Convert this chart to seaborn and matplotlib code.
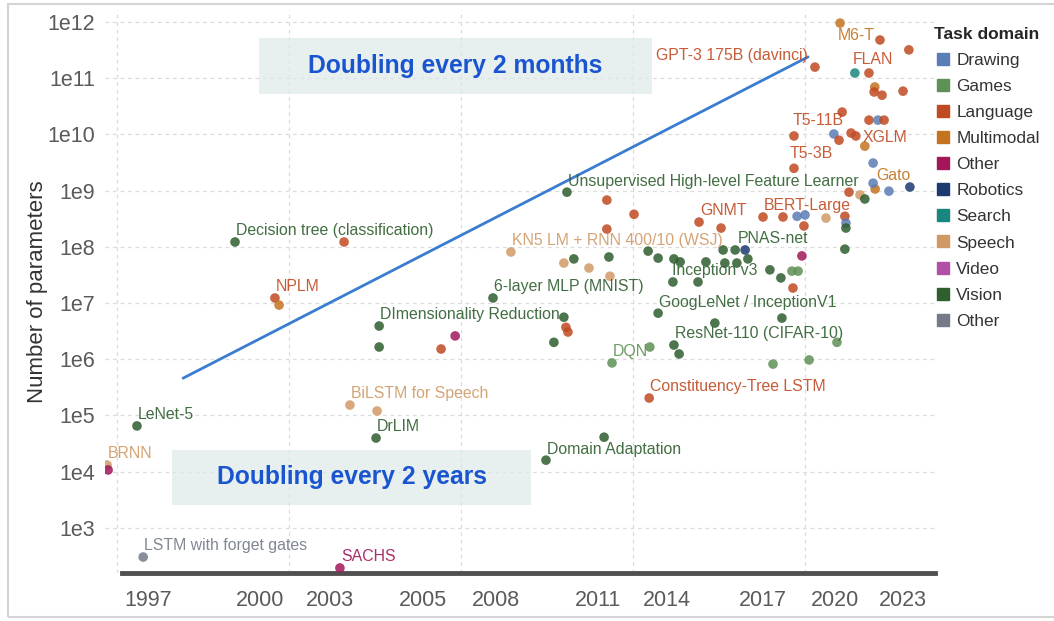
import numpy as np
import pandas as pd
import seaborn as sns
import matplotlib.pyplot as plt
from matplotlib.lines import Line2D
from matplotlib.patches import Rectangle
from matplotlib.ticker import FixedLocator, NullLocator

# ---- data ----
years = [1994.71, 1994.74, 1995.58, 1995.76, 1998.43, 2001.60, 1999.59, 1999.71,
         2002.62, 2002.62, 2004.42, 2004.83, 2005.93, 2007.99, 2008.05, 2008.11,
         2007.70, 2008.08, 2009.24, 2010.03, 2009.24, 2006.45, 2007.99, 2008.28,
         2008.72, 2009.33, 2009.30, 2010.44, 2010.73, 2011.19, 2011.37, 2012.12,
         2012.67, 2013.02, 2013.34, 2012.62, 2012.97, 2013.26, 2011.92, 2012.56,
         2011.16, 2011.89, 2010.73, 2012.38, 2011.19, 2011.34, 2009.39, 2010.49,
         2010.47, 2009.16, 2007.47, 2001.77, 2002.56, 2002.53, 2001.48,
         2013.78, 2014.36, 2014.77, 2015.00, 2015.61, 2016.16, 2016.19, 2016.19,
         2014.97, 2016.16, 2014.91, 2013.98, 2014.30, 2014.62, 2014.80, 2014.65,
         2014.33, 2015.93, 2014.07, 2015.12, 2016.28, 2016.60, 2016.74, 2017.04,
         2017.44, 2018.05, 2016.02, 2017.18, 2018.02, 2016.45, 2016.86, 2015.29,
         2017.03, 2017.01, 2017.24, 2017.85, 2016.08, 2014.68, 2015.84, 2015.99,
         2016.34, 2016.48, 2016.86, 2017.12, 2017.30, 2016.74, 2014.68, 2016.98,
         2016.98]
params = [1.31e4, 1.07e4, 6.5e4, 302, 1.22e8, 1.22e8, 1.23e7, 9.2e6,
          3.9e6, 1.65e6, 1.52e6, 2.6e6, 1.23e7, 5.6e6, 3.7e6, 3.05e6,
          2.0e6, 9.4e8, 6.8e8, 3.8e8, 2.07e8, 8.1e7, 5.15e7, 6.1e7,
          4.2e7, 3.0e7, 6.6e7, 8.4e7, 6.3e7, 6.1e7, 5.4e7, 5.4e7,
          5.15e7, 5.15e7, 6.1e7, 8.8e7, 8.8e7, 8.8e7, 2.76e8, 2.16e8,
          2.37e7, 2.37e7, 6.6e6, 4.4e6, 1.79e6, 1.24e6, 8.6e5, 1.65e6,
          2.04e5, 4.1e4, 1.6e4, 1.53e5, 1.2e5, 3.96e4, 193,
          3.4e8, 3.4e8, 3.5e8, 3.7e8, 3.25e8, 3.5e8, 2.65e8, 2.16e8,
          2.35e8, 9.1e7, 6.9e7, 3.9e7, 2.8e7, 3.7e7, 3.7e7, 1.85e7,
          5.4e6, 2.0e6, 8.2e5, 9.7e5, 9.4e8, 8.4e8, 7.1e8, 1.07e9,
          9.8e8, 1.16e9, 9.6e11, 4.8e11, 3.2e11, 1.24e11, 1.24e11, 1.58e11,
          7.0e10, 5.7e10, 5.0e10, 5.9e10, 2.5e10, 9.4e9, 1.02e10, 7.9e9,
          1.06e10, 9.4e9, 1.8e10, 1.8e10, 1.8e10, 6.2e9, 2.5e9, 3.1e9,
          1.36e9]
domains = ['Speech', 'Other', 'Vision', 'Other (2)', 'Vision', 'Language', 'Language', 'Multimodal',
           'Vision', 'Vision', 'Language', 'Other', 'Vision', 'Vision', 'Language', 'Language',
           'Vision', 'Vision', 'Language', 'Language', 'Language', 'Speech', 'Speech', 'Vision',
           'Speech', 'Speech', 'Vision', 'Vision', 'Vision', 'Vision', 'Vision', 'Vision',
           'Vision', 'Vision', 'Vision', 'Vision', 'Vision', 'Robotics', 'Language', 'Language',
           'Vision', 'Vision', 'Vision', 'Vision', 'Vision', 'Vision', 'Games', 'Games',
           'Language', 'Vision', 'Vision', 'Speech', 'Speech', 'Vision', 'Other',
           'Language', 'Language', 'Drawing', 'Drawing', 'Speech', 'Language', 'Drawing', 'Vision',
           'Language', 'Vision', 'Other', 'Vision', 'Vision', 'Games', 'Games', 'Language',
           'Vision', 'Games', 'Games', 'Games', 'Language', 'Speech', 'Vision', 'Multimodal',
           'Drawing', 'Robotics', 'Multimodal', 'Language', 'Language', 'Search', 'Language', 'Language',
           'Multimodal', 'Language', 'Language', 'Language', 'Language', 'Language', 'Drawing', 'Language',
           'Language', 'Language', 'Language', 'Drawing', 'Language', 'Multimodal', 'Language', 'Drawing',
           'Drawing']

domain_order = ['Drawing', 'Games', 'Language', 'Multimodal', 'Other', 'Robotics',
                'Search', 'Speech', 'Video', 'Vision', 'Other (2)']
legend_names = ['Drawing', 'Games', 'Language', 'Multimodal', 'Other', 'Robotics',
                'Search', 'Speech', 'Video', 'Vision', 'Other']
domain_colors = ['#5a7db6', '#5e9155', '#c04a22', '#c4731f', '#a3175a', '#1d3a6e',
                 '#17877f', '#d09a66', '#b24fa6', '#2f5e2f', '#737b88']

# labelled models: text, year, params, domain
label_texts = ['BRNN', 'LeNet-5', 'LSTM with forget gates', 'Decision tree (classification)',
               'NPLM', 'DImensionality Reduction', '6-layer MLP (MNIST)',
               'Unsupervised High-level Feature Learner', 'KN5 LM + RNN 400/10 (WSJ)',
               'GNMT', 'BERT-Large', 'PNAS-net', 'Inception v3', 'GoogLeNet / InceptionV1',
               'ResNet-110 (CIFAR-10)', 'DQN', 'Constituency-Tree LSTM', 'Domain Adaptation',
               'BiLSTM for Speech', 'DrLIM', 'SACHS', 'GPT-3 175B (davinci)', 'M6-T', 'FLAN',
               'T5-11B', 'XGLM', 'T5-3B', 'Gato']
label_years = [1994.71, 1995.58, 1995.76, 1998.43, 1999.59, 2002.62, 2005.93, 2008.08,
               2006.45, 2011.92, 2013.78, 2013.02, 2011.16, 2010.73, 2011.19, 2009.39,
               2010.47, 2007.47, 2001.77, 2002.53, 2001.48, 2015.29, 2016.02, 2016.86,
               2014.68, 2016.48, 2014.68, 2017.04]
label_params = [1.31e4, 6.5e4, 302, 1.22e8, 1.23e7, 3.9e6, 1.23e7, 9.4e8,
                8.1e7, 2.76e8, 3.4e8, 8.8e7, 2.37e7, 6.6e6, 1.79e6, 8.6e5,
                2.04e5, 1.6e4, 1.53e5, 3.96e4, 193, 1.58e11, 9.6e11, 1.24e11,
                9.4e9, 9.4e9, 2.5e9, 1.07e9]
label_domains = ['Speech', 'Vision', 'Other (2)', 'Vision', 'Language', 'Vision', 'Vision', 'Vision',
                 'Speech', 'Language', 'Language', 'Vision', 'Vision', 'Vision', 'Vision', 'Games',
                 'Language', 'Vision', 'Speech', 'Vision', 'Other', 'Language', 'Multimodal', 'Language',
                 'Language', 'Language', 'Language', 'Multimodal']

# trend line endpoints
trend_years = [1996.92, 2015.09]
trend_params = [4.6e5, 2.4e11]

x_tick_pos = [1995.90, 1999.16, 2001.19, 2003.90, 2006.02, 2008.98, 2010.99, 2013.78, 2015.87, 2017.85]
x_tick_labels = ['1997', '2000', '2003', '2005', '2008', '2011', '2014', '2017', '2020', '2023']
y_ticks = [1e3, 1e4, 1e5, 1e6, 1e7, 1e8, 1e9, 1e10, 1e11, 1e12]
y_tick_labels = ['1e3', '1e4', '1e5', '1e6', '1e7', '1e8', '1e9', '1e10', '1e11', '1e12']

df = pd.DataFrame({'year': years, 'params': params, 'domain': domains})
palette = dict(zip(domain_order, domain_colors))

sns.set_style('white')
plt.rcParams['font.family'] = ['Liberation Sans', 'DejaVu Sans']

fig = plt.figure(figsize=(10.54, 6.21), dpi=100)
ax = fig.add_axes([105 / 1054, 48 / 621, 830 / 1054, 563 / 621])

sns.scatterplot(data=df, x='year', y='params', hue='domain', hue_order=domain_order,
                palette=palette, s=48, alpha=0.85, linewidth=0, legend=False, ax=ax, zorder=3)

ax.set_yscale('log')
ax.set_xlim(1994.65, 2018.78)
ax.set_ylim(157, 1.64e12)

ax.yaxis.set_major_locator(FixedLocator(y_ticks))
ax.yaxis.set_minor_locator(NullLocator())
ax.set_yticklabels(y_tick_labels)
ax.set_xticks(x_tick_pos)
ax.set_xticklabels(x_tick_labels)
ax.xaxis.set_minor_locator(FixedLocator([1995, 2000, 2005, 2010, 2015]))
ax.tick_params(axis='both', length=0, labelsize=15.5, labelcolor='#5a5a5a')
ax.tick_params(axis='x', pad=12)
ax.tick_params(axis='y', pad=7)
ax.tick_params(axis='x', which='minor', length=0)

ax.grid(False)
ax.yaxis.grid(True, which='major', color='#dcdcdc', linestyle=(0, (3, 3)), linewidth=0.9)
ax.xaxis.grid(True, which='minor', color='#dcdcdc', linestyle=(0, (3, 3)), linewidth=0.9)
ax.set_axisbelow(True)

for side in ['top', 'right', 'left']:
    ax.spines[side].set_visible(False)
ax.spines['bottom'].set_color('#505050')
ax.spines['bottom'].set_linewidth(3.5)
ax.spines['bottom'].set_bounds(1995.15, 2018.78)

ax.set_xlabel('')
ax.set_ylabel('Number of parameters', fontsize=16, color='#333333', labelpad=0)

# trend line
ax.plot(trend_years, trend_params, color='#3a7dd0', linewidth=2, zorder=4)

# point labels
offsets = {'GPT-3 175B (davinci)': (-5, 8.6, 'right'), 'M6-T': (-1.5, -8.6, 'left'),
           'FLAN': (-12, 9.4, 'left'), 'T5-11B': (-0.7, 10.8, 'left'),
           'XGLM': (5, -1.4, 'left'), 'T5-3B': (-3, 10.8, 'left'),
           'Gato': (0.7, 9.4, 'left'), 'Inception v3': (-0.7, 8.6, 'left')}
for txt, lx, ly, dom in zip(label_texts, label_years, label_params, label_domains):
    dx, dy, ha = offsets.get(txt, (0.7, 8, 'left'))
    ax.annotate(txt, (lx, ly), xytext=(dx, dy), textcoords='offset points',
                ha=ha, va='center', fontsize=11.4, color=palette[dom], alpha=0.9, zorder=5)

# doubling boxes
ax.add_patch(Rectangle((0.1855, 0.8508), 0.4735, 0.0995, transform=ax.transAxes,
                       facecolor='#dde9e9', alpha=0.7, edgecolor='none', zorder=1))
ax.text(0.4217, 0.9005, 'Doubling every 2 months', transform=ax.transAxes, ha='center',
        va='center', fontsize=17.7, fontweight='bold', color='#1a55d0', zorder=6)
ax.add_patch(Rectangle((0.0807, 0.1208), 0.4326, 0.0977, transform=ax.transAxes,
                       facecolor='#dde9e9', alpha=0.7, edgecolor='none', zorder=1))
ax.text(0.2976, 0.1700, 'Doubling every 2 years', transform=ax.transAxes, ha='center',
        va='center', fontsize=17.7, fontweight='bold', color='#1a55d0', zorder=6)

# legend
handles = [Line2D([], [], marker='s', linestyle='', markersize=9, color=c)
           for c in domain_colors]
leg = fig.legend(handles, legend_names, title='Task domain', loc='upper left',
                 bbox_to_anchor=(927 / 1054, 1 - 20 / 621), frameon=False,
                 fontsize=12.4, title_fontsize=12.5, labelspacing=0.64,
                 handletextpad=0.3, handlelength=1.0, borderaxespad=0)
leg.get_title().set_fontweight('bold')
leg._legend_box.align = 'left'
for t in leg.get_texts():
    t.set_color('#333333')

# outer frame
fig.patches.append(Rectangle((8 / 1054, 4 / 621), 1.0, 1 - 8 / 621, transform=fig.transFigure,
                             fill=False, edgecolor='#d4d4d4', linewidth=1.5))

fig.savefig('out.png', dpi=100)
